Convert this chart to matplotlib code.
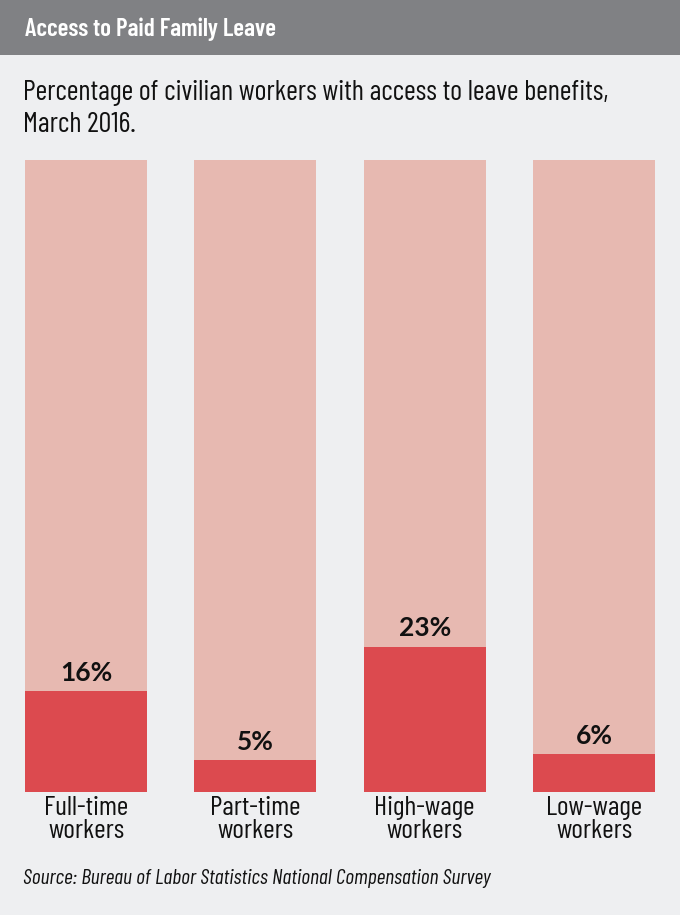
import matplotlib
matplotlib.use("Agg")
import matplotlib.pyplot as plt
from matplotlib.patches import Rectangle

BG = "#EEEFF1"
HEADER = "#808184"
LIGHT = "#E7B9B1"
DARK = "#DC4A4F"
INK = "#111111"
NARROW = ["Barlow Condensed", "Roboto Condensed", "DejaVu Sans"]
ROUND = ["Lato", "DejaVu Sans"]

categories = ["Full-time\nworkers", "Part-time\nworkers", "High-wage\nworkers", "Low-wage\nworkers"]
access_pct = [16, 5, 23, 6]
total_pct = [100, 100, 100, 100]

W, H = 680, 915
fig = plt.figure(figsize=(W / 100, H / 100), dpi=100, facecolor=BG)

# header band
fig.patches.append(Rectangle((0, 1 - 55 / H), 1, 55 / H, transform=fig.transFigure,
                             facecolor=HEADER, edgecolor="none", zorder=0))
fig.text(25 / W, 1 - 29 / H, "Access to Paid Family Leave", color="white",
         fontsize=18, fontweight="semibold", family=NARROW, va="center", ha="left")
fig.text(23 / W, 1 - 109 / H,
         "Percentage of civilian workers with access to leave benefits,\nMarch 2016.",
         color=INK, fontsize=20.5, family=NARROW, va="center", ha="left",
         linespacing=1.25)

ax = fig.add_axes([25 / W, 1 - 792 / H, (655 - 25) / W, (792 - 160) / H])
ax.set_facecolor(BG)
x = range(len(categories))
ax.bar(x, total_pct, width=0.72, color=LIGHT)
ax.bar(x, access_pct, width=0.72, color=DARK)
ax.set_xlim(-0.36, len(categories) - 0.64)
ax.set_ylim(0, 100)
for xi, v in zip(x, access_pct):
    ax.text(xi, v + 2.9, f"{v}%", ha="center", va="center", fontsize=19,
            fontweight="bold", family=ROUND, color=INK)
ax.set_xticks(list(x))
ax.set_xticklabels(categories, fontsize=20, family=NARROW, color=INK,
                   linespacing=0.95)
ax.tick_params(axis="x", length=0, pad=3)
ax.set_yticks([])
for s in ax.spines.values():
    s.set_visible(False)

fig.text(23 / W, 1 - 878 / H,
         "Source: Bureau of Labor Statistics National Compensation Survey",
         fontsize=15.6, style="italic", family=NARROW, color=INK,
         va="center", ha="left")

fig.savefig("out.png", dpi=100, facecolor=BG)
